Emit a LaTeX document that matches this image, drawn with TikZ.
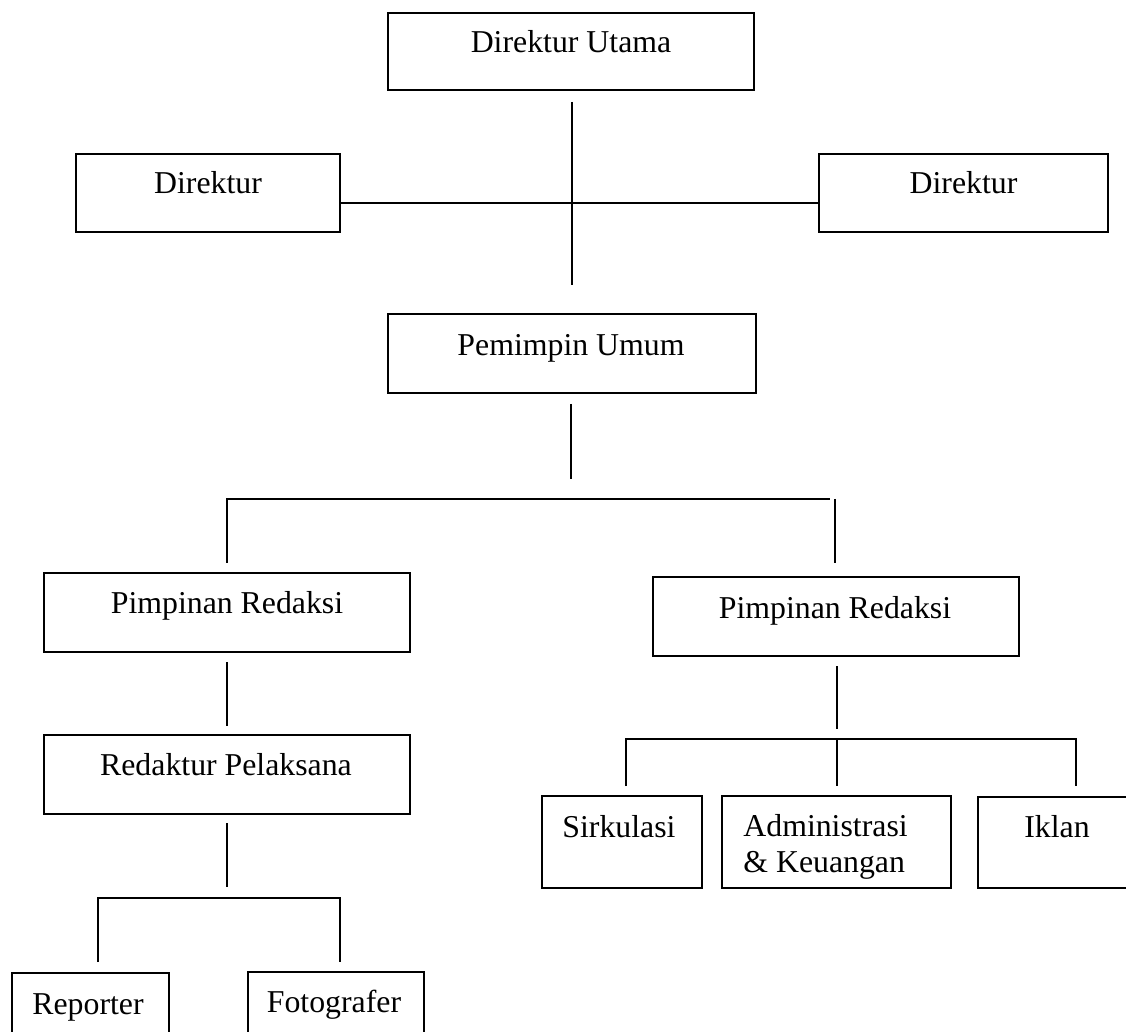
\documentclass[tikz,border=0pt]{standalone}
\usepackage{fontspec}
\setmainfont{Liberation Serif}
\begin{document}
\begin{tikzpicture}[x=0.5pt,y=-0.5pt,
  box/.style 2 args={draw=black, line width=1pt, rectangle, inner sep=0pt,
    minimum width=#1*0.5pt, minimum height=#2*0.5pt},
  lbl/.style={anchor=base, inner sep=0pt, font=\fontsize{15.9}{19}\selectfont},
  lblw/.style={anchor=base west, inner sep=0pt, font=\fontsize{15.9}{19}\selectfont},
  conn/.style={draw=black, line width=1pt}]
\useasboundingbox (0,0) rectangle (1126,1032);
\fill[white] (0,0) rectangle (1126,1032);
\clip (0,0) rectangle (1126,1032);

% boxes
\node[box={366}{77}] (du)  at (571,51.5) {};
\node[box={264}{78}] (dl)  at (208,193) {};
\node[box={289}{78}] (dr)  at (963.5,193) {};
\node[box={368}{79}] (pu)  at (572,353.5) {};
\node[box={366}{79}] (prl) at (227,612.5) {};
\node[box={366}{79}] (prr) at (836,616.5) {};
\node[box={366}{79}] (rp)  at (227,774.5) {};
\node[box={160}{92}] (sk)  at (622,842) {};
\node[box={229}{92}] (ak)  at (836.5,842) {};
\node[box={160}{91}] (ik)  at (1058,842.5) {};
\node[box={157}{85}] (rep) at (90.5,1015.5) {};
\node[box={176}{85}] (fot) at (336,1014.5) {};

% labels
\node[lbl] (tdu)  at (571,53) {Direktur Utama};
\node[lbl] (tdl)  at (208,194) {Direktur};
\node[lbl] (tdr)  at (963.5,194) {Direktur};
\node[lbl] (tpu)  at (571,356) {Pemimpin Umum};
\node[lbl] (tprl) at (227,613) {Pimpinan Redaksi};
\node[lbl] (tprr) at (835,618) {Pimpinan Redaksi};
\node[lbl] (trp)  at (226,775) {Redaktur Pelaksana};
\node[lbl] (tsk)  at (619,837) {Sirkulasi};
\node[lblw] (tak1) at (743,836) {Administrasi};
\node[lblw] (tak2) at (743,872) {\& Keuangan};
\node[lbl] (tik)  at (1057,837) {Iklan};
\node[lbl] (trep) at (88,1014) {Reporter};
\node[lbl] (tfot) at (334,1012) {Fotografer};

% connector points
\coordinate (a1) at (572,102);
\coordinate (a2) at (572,285);
\coordinate (b1) at (340,203);
\coordinate (b2) at (819,203);
\coordinate (c1) at (571,404);
\coordinate (c2) at (571,479);
\coordinate (d1) at (227,563);
\coordinate (d2) at (227,499);
\coordinate (d3) at (830,499);
\coordinate (e1) at (835,499);
\coordinate (e2) at (835,563);
\coordinate (f1) at (227,662);
\coordinate (f2) at (227,726);
\coordinate (g1) at (227,823);
\coordinate (g2) at (227,887);
\coordinate (h1) at (98,962);
\coordinate (h2) at (98,898);
\coordinate (h3) at (340,898);
\coordinate (h4) at (340,962);
\coordinate (i1) at (837,666);
\coordinate (i2) at (837,729);
\coordinate (j1) at (626,786);
\coordinate (j2) at (626,739);
\coordinate (j3) at (1076,739);
\coordinate (j4) at (1076,786);
\coordinate (k1) at (837,739);
\coordinate (k2) at (837,786);

% connectors
\draw[conn] (a1) -- (a2);
\draw[conn] (b1) -- (b2);
\draw[conn] (c1) -- (c2);
\draw[conn] (d1) -- (d2) -- (d3);
\draw[conn] (e1) -- (e2);
\draw[conn] (f1) -- (f2);
\draw[conn] (g1) -- (g2);
\draw[conn] (h1) -- (h2) -- (h3) -- (h4);
\draw[conn] (i1) -- (i2);
\draw[conn] (j1) -- (j2) -- (j3) -- (j4);
\draw[conn] (k1) -- (k2);
\end{tikzpicture}
\end{document}
